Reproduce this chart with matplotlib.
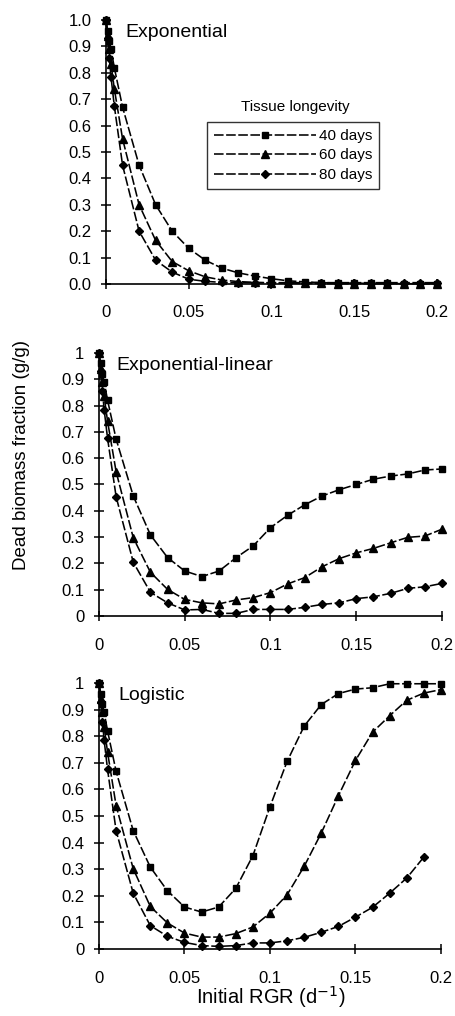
import matplotlib
matplotlib.use('Agg')
import matplotlib.pyplot as plt
from matplotlib.ticker import FuncFormatter

plt.rcParams['font.family'] = ['Liberation Sans', 'DejaVu Sans']

# initial RGR (d-1)
rgr = [0, 0.001, 0.002, 0.003, 0.005, 0.01, 0.02, 0.03, 0.04, 0.05, 0.06, 0.07,
       0.08, 0.09, 0.1, 0.11, 0.12, 0.13, 0.14, 0.15, 0.16, 0.17, 0.18, 0.19, 0.2]

longevity = ['40 days', '60 days', '80 days']

# Exponential
exp_40 = [1.0, 0.96, 0.92, 0.89, 0.82, 0.67, 0.45, 0.30, 0.20, 0.135, 0.09, 0.06,
          0.042, 0.03, 0.02, 0.012, 0.008, 0.005, 0.004, 0.003, 0.002, 0.002, 0.001, 0.001, 0.001]
exp_60 = [1.0, 0.94, 0.89, 0.835, 0.74, 0.55, 0.30, 0.165, 0.085, 0.05, 0.027, 0.015,
          0.009, 0.006, 0.004, 0.003, 0.002, 0.002, 0.001, 0.001, 0.001, 0.001, 0.001, 0.001, 0.001]
exp_80 = [1.0, 0.93, 0.855, 0.785, 0.675, 0.45, 0.20, 0.09, 0.045, 0.018, 0.01, 0.006,
          0.005, 0.005, 0.005, 0.005, 0.005, 0.005, 0.005, 0.005, 0.005, 0.005, 0.005, 0.005, 0.005]

# Exponential-linear
el_40 = [1.0, 0.96, 0.92, 0.89, 0.82, 0.672, 0.456, 0.308, 0.222, 0.171, 0.15, 0.171,
         0.222, 0.267, 0.336, 0.383, 0.423, 0.456, 0.48, 0.50, 0.52, 0.532, 0.54, 0.555, 0.559]
el_60 = [1.0, 0.94, 0.89, 0.835, 0.74, 0.548, 0.297, 0.166, 0.101, 0.063, 0.05, 0.046,
         0.061, 0.07, 0.089, 0.122, 0.146, 0.187, 0.218, 0.24, 0.257, 0.278, 0.299, 0.304, 0.33]
el_80 = [1.0, 0.93, 0.855, 0.785, 0.675, 0.453, 0.204, 0.09, 0.05, 0.023, 0.025, 0.01,
         0.01, 0.025, 0.025, 0.025, 0.033, 0.044, 0.05, 0.066, 0.073, 0.086, 0.105, 0.111, 0.124]

# Logistic
lg_40 = [1.0, 0.96, 0.92, 0.89, 0.82, 0.668, 0.445, 0.308, 0.219, 0.158, 0.139, 0.158,
         0.228, 0.351, 0.535, 0.705, 0.838, 0.919, 0.96, 0.977, 0.982, 0.997, 0.997, 0.997, 0.997]
lg_60 = [1.0, 0.94, 0.89, 0.835, 0.74, 0.539, 0.302, 0.16, 0.098, 0.06, 0.045, 0.045,
         0.058, 0.083, 0.135, 0.204, 0.311, 0.436, 0.576, 0.709, 0.815, 0.877, 0.935, 0.962, 0.975]
lg_80 = [1.0, 0.93, 0.855, 0.785, 0.675, 0.445, 0.21, 0.088, 0.048, 0.025, 0.013, 0.01,
         0.013, 0.023, 0.023, 0.031, 0.044, 0.063, 0.085, 0.12, 0.157, 0.21, 0.267, 0.346]

panels = [
    ('Exponential', [exp_40, exp_60, exp_80]),
    ('Exponential-linear', [el_40, el_60, el_80]),
    ('Logistic', [lg_40, lg_60, lg_80]),
]

markers = [('s', 4.6), ('^', 5.2), ('D', 3.6)]

# axes rectangles in figure fraction (left, bottom, width, height)
rects = [
    [0.2325, 0.7205, 0.7255, 0.2598],
    [0.2171, 0.3937, 0.7522, 0.2589],
    [0.2171, 0.0659, 0.7500, 0.2619],
]
title_x = [0.058, 0.05, 0.058]

fig = plt.figure(figsize=(4.56, 10.16), dpi=100)

for i, (name, series) in enumerate(panels):
    ax = fig.add_axes(rects[i])
    lines = []
    for ys, (m, ms), lab in zip(series, markers, longevity):
        ln, = ax.plot(rgr[:len(ys)], ys, color='black', linewidth=1.15,
                      dashes=(6, 1.6), marker=m, markersize=ms,
                      clip_on=False, label=lab, zorder=3)
        lines.append(ln)
    ax.set_xlim(0, 0.2)
    ax.set_ylim(0, 1)
    ax.set_xticks([0, 0.05, 0.1, 0.15, 0.2])
    ax.set_yticks([k / 10 for k in range(11)])
    ax.xaxis.set_major_formatter(FuncFormatter(lambda v, p: f'{v:g}'))
    if i == 0:
        ax.yaxis.set_major_formatter(FuncFormatter(lambda v, p: f'{v:.1f}'))
    else:
        ax.yaxis.set_major_formatter(FuncFormatter(lambda v, p: f'{v:g}'))
    for s in ['top', 'right']:
        ax.spines[s].set_visible(False)
    for s in ['left', 'bottom']:
        ax.spines[s].set_linewidth(1.2)
    ax.tick_params(axis='both', direction='inout', length=7, width=1.1,
                   labelsize=12)
    ax.tick_params(axis='x', pad=12)
    ax.tick_params(axis='y', pad=7)
    ax.text(title_x[i], 0.952, name, transform=ax.transAxes,
            fontsize=14, va='center', ha='left')
    if i == 0:
        leg = ax.legend(handles=lines, loc='upper left',
                        bbox_to_anchor=(207 / 456, 1 - 122 / 1016),
                        bbox_transform=fig.transFigure, fontsize=11,
                        handlelength=6.7, handletextpad=0.15, borderpad=0.45,
                        labelspacing=0.36, borderaxespad=0, fancybox=False,
                        numpoints=1)
        leg.get_frame().set_edgecolor('black')
        leg.get_frame().set_linewidth(1.0)
        fig.text(295 / 456, 1 - 107 / 1016, 'Tissue longevity', ha='center',
                 va='center', fontsize=11)

fig.text(22 / 456, 1 - 455 / 1016, 'Dead biomass fraction (g/g)', rotation=90,
         ha='center', va='center', fontsize=13.5)
fig.text(271 / 456, 1 - 997 / 1016, 'Initial RGR (d$^{-1}$)', ha='center',
         va='center', fontsize=14.5)

fig.savefig('out.png', dpi=100)
